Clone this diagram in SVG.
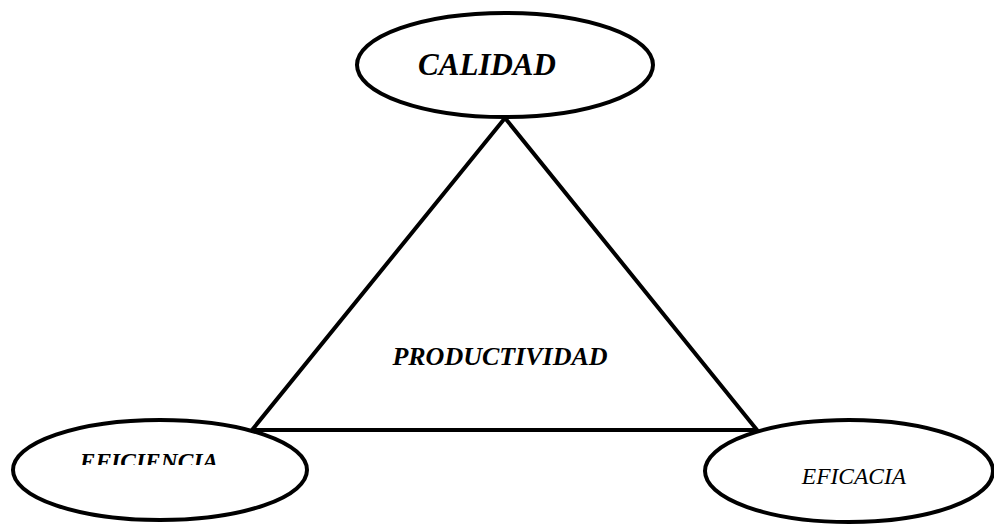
<svg xmlns="http://www.w3.org/2000/svg" width="994" height="524" viewBox="0 0 994 524">
<style>
.n{fill:#fff;stroke:#000;stroke-width:4}
.e{stroke:#000;stroke-width:4;fill:none;stroke-linejoin:miter}
.t{font-family:"Liberation Serif",serif;font-style:italic;fill:#000}
</style>
<defs>
<clipPath id="clipEf"><rect x="0" y="440" width="320" height="25"/></clipPath>
</defs>
<rect width="994" height="524" fill="#fff"/>
<g id="connectors">
<polygon class="e" points="505,118 252,430 757,430"/>
</g>
<g id="productividad">
<text class="t" x="500" y="365" font-size="26" font-weight="bold" text-anchor="middle">PRODUCTIVIDAD</text>
</g>
<g id="calidad">
<ellipse class="n" cx="505" cy="65" rx="148" ry="52"/>
<text class="t" x="487" y="75" font-size="31" font-weight="bold" text-anchor="middle">CALIDAD</text>
</g>
<g id="eficiencia">
<ellipse class="n" cx="160" cy="470" rx="147" ry="50"/>
<text class="t" x="149" y="469" font-size="23.5" font-weight="bold" text-anchor="middle" clip-path="url(#clipEf)">EFICIENCIA</text>
</g>
<g id="eficacia">
<ellipse class="n" cx="849" cy="471" rx="144" ry="51"/>
<text class="t" x="854" y="484" font-size="23.5" text-anchor="middle">EFICACIA</text>
</g>
</svg>
